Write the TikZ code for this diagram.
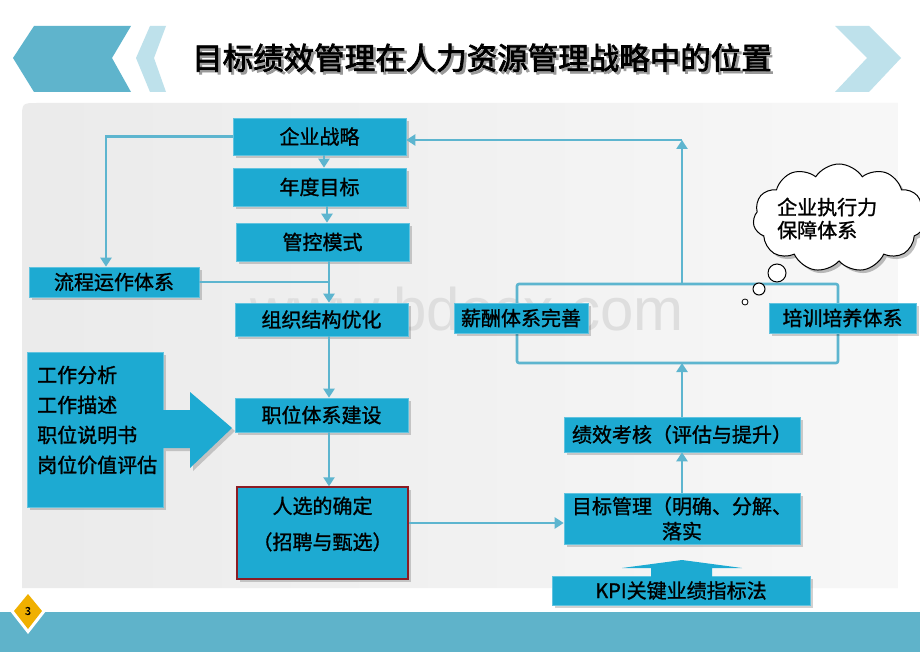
\documentclass[tikz,border=0pt]{standalone}
\usepackage{fontspec}
\setmainfont{Noto Sans CJK SC}[FakeBold=1.2]
\newfontfamily\titlefont{Noto Sans CJK SC}[FakeBold=2.5]
\newfontfamily\wmfont{Liberation Sans}
\usetikzlibrary{shapes.symbols,shadows,arrows.meta}
\definecolor{boxc}{HTML}{1DAAD2}
\definecolor{linec}{HTML}{5DB5CF}
\definecolor{darkchev}{HTML}{5FB4CC}
\definecolor{lightchev}{HTML}{BEE1EB}
\definecolor{bandc}{HTML}{5FB3CA}
\definecolor{goldc}{HTML}{F0B000}
\definecolor{redb}{HTML}{8B1C24}
\newcommand{\shadowtext}[1]{\rlap{\kern2.5pt\raisebox{-2.5pt}{\color{black!40}#1}}#1}
\begin{document}
\begin{tikzpicture}[x=1pt,y=-1pt,
 box/.style={fill=boxc, draw=boxc!70!white, line width=0.6pt, inner sep=0pt,
   drop shadow={shadow xshift=3pt,shadow yshift=-3pt,fill=black,opacity=0.18},
   font=\fontsize{20}{24}\selectfont, text=black, align=center},
 conn/.style={draw=linec, line width=2.6pt},
 arr/.style={conn, -{Triangle[length=9pt,width=11pt]}},
 txt/.style={font=\fontsize{20}{24}\selectfont, text=black, inner sep=0pt},
]
\useasboundingbox (0,0) rectangle (920,652);
\fill[white] (0,0) rectangle (920,652);
% header chevrons
\fill[darkchev] (13,58) -- (34,26) -- (131,26) -- (112,58) -- (131,92) -- (34,92) -- cycle;
\fill[lightchev] (150,26) -- (166,26) -- (154,58) -- (166,92) -- (150,92) -- (136,58) -- cycle;
\fill[lightchev] (835,26) -- (869,26) -- (901,58) -- (869,92) -- (835,92) -- (867,58) -- cycle;
\node[font=\titlefont\fontsize{30.5}{36}\selectfont, text=black] (title) at (482,59) {\shadowtext{目标绩效管理在人力资源管理战略中的位置}};
% panel
\shade[left color=black!8, right color=black!3] (22,588) -- (22,119) .. controls (22,103) .. (38,103) -- (898,103) -- (898,588) -- cycle;
% watermark
\node[anchor=base west, font=\wmfont\fontsize{60}{60}\selectfont, text=black!13, inner sep=0pt] (wm) at (250,330) {www.bdocx.com};
% bottom band
\fill[bandc] (0,612) rectangle (920,652);
\fill[white] (28,590) -- (46,611) -- (28,634) -- (10,611) -- cycle;
\fill[goldc] (28,594) -- (42,611) -- (28,629) -- (14,611) -- cycle;
\node[font=\fontsize{11}{12}\selectfont, text=black] (pg) at (28,611) {3};

% helper coordinates
\coordinate (ax) at (329,0);
\coordinate (lx) at (106,0);
\coordinate (ay) at (0,523);
\coordinate (top) at (682,140);
\coordinate (fb) at (682,363);
\coordinate (ft) at (682,284);

% frame
\draw[conn, rounded corners=2pt] (517,284) rectangle (838,363);

% boxes
\node[box, minimum width=173pt, minimum height=37pt] (s1) at (319.5,136.5) {企业战略};
\node[box, minimum width=173pt, minimum height=38pt] (s2) at (319.5,187) {年度目标};
\node[box, minimum width=173pt, minimum height=38pt] (s3) at (322.5,242) {管控模式};
\node[box, minimum width=170pt, minimum height=30pt] (s4) at (114,282) {流程运作体系};
\node[box, minimum width=173pt, minimum height=33pt] (s5) at (321.5,319.5) {组织结构优化};
\node[box, minimum width=173pt, minimum height=34pt] (s6) at (321.5,415) {职位体系建设};
\node[box, draw=redb, line width=1.4pt, minimum width=171pt, minimum height=92pt] (s7) at (322.5,533) {};
\node[txt, align=center, font=\fontsize{20}{36}\selectfont] (s7t) at (322.5,524) {人选的确定\\（招聘与甄选）};
\node[box, minimum width=136pt, minimum height=155pt] (lb) at (95,429.5) {};
\node[txt, anchor=west, align=left, font=\fontsize{20}{30}\selectfont] (lbt) at (37,420) {工作分析\\工作描述\\职位说明书\\岗位价值评估};
\fill[boxc, drop shadow={shadow xshift=3pt,shadow yshift=-3pt,fill=black,opacity=0.18}]
  (163,410) -- (190,410) -- (190,392) -- (232,428) -- (190,468) -- (190,448) -- (163,448) -- cycle;

\node[box, minimum width=134pt, minimum height=30pt] (s8) at (521,318) {薪酬体系完善};
\node[box, minimum width=147pt, minimum height=30pt] (s9) at (842.5,318) {培训培养体系};
\node[box, minimum width=236pt, minimum height=35pt] (s10) at (682,434.5) {绩效考核（评估与提升）};
\node[box, minimum width=236pt, minimum height=51pt, font=\fontsize{20}{25}\selectfont] (s11) at (682,518.5) {目标管理（明确、分解、\\落实};
\node[box, minimum width=258pt, minimum height=29pt] (s12) at (681,590.5) {KPI关键业绩指标法};
\fill[boxc] (651,577) -- (651,568) -- (622,568) -- (682,560) -- (742,568) -- (712,568) -- (712,577) -- cycle;

% cloud
\node[cloud, cloud puffs=11, cloud puff arc=115, aspect=1.6, draw=black, line width=1pt, fill=white,
  minimum width=172pt, minimum height=108pt,
  drop shadow={shadow xshift=3pt,shadow yshift=-3pt,fill=black,opacity=0.25}] (cl) at (839,218) {};
\node[txt, anchor=west, align=left, font=\fontsize{20}{23}\selectfont] (clt) at (777,218.5) {企业执行力\\保障体系};
\node[circle, draw=black, line width=1pt, fill=white, minimum size=18pt, inner sep=0pt] (b1) at (777,273) {};
\node[circle, draw=black, line width=1pt, fill=white, minimum size=12pt, inner sep=0pt] (b2) at (759,289) {};
\node[circle, draw=black, line width=0.8pt, fill=white, minimum size=6pt, inner sep=0pt] (b3) at (745,302) {};

% connectors
\draw[arr] (s1.south -| 324,0) -- (s2.north -| 324,0);
\draw[arr] (s2.south -| 327,0) -- (s3.north -| 327,0);
\draw[arr] (s3.south -| ax) -- (s5.north -| ax);
\draw[conn] (s4.east) -- (s4.east -| ax);
\draw[arr] (s1.west) -| (s4.north -| lx);
\draw[arr] (s5.south -| ax) -- (s6.north -| ax);
\draw[arr] (s6.south -| ax) -- (s7.north -| ax);
\draw[arr] (s7.east |- ay) -- (s11.west |- ay);
\draw[arr] (s11.north) -- (s10.south);
\draw[arr] (s10.north) -- (fb);
\draw[arr] (ft) -- (top);
\draw[arr] (top) -- (top -| s1.east);
\end{tikzpicture}
\end{document}
